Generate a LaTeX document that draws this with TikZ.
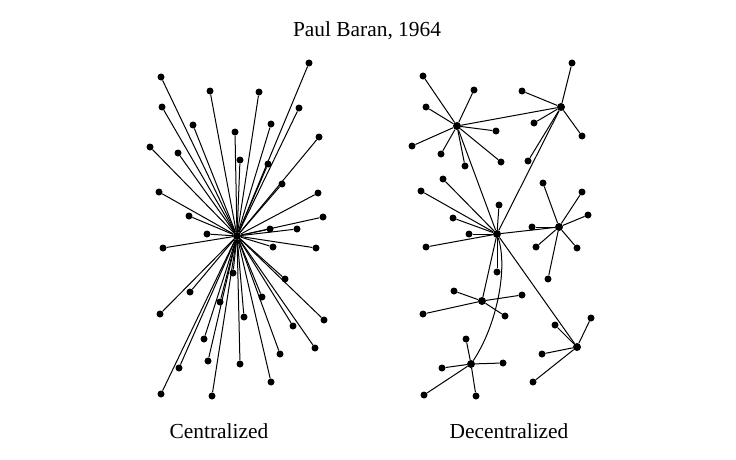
\documentclass[tikz,border=0pt]{standalone}
\usepackage{fontspec}
\setmainfont{Liberation Serif}
\usetikzlibrary{positioning}

\begin{document}
\begin{tikzpicture}[
    x=1pt, y=-1pt,
    dot/.style = {circle, fill=black, inner sep=0pt, minimum size=7pt},
    hub/.style = {dot, minimum size=8pt},
    link/.style = {line width=1pt},
    caption/.style = {anchor=base, font=\fontsize{21.4}{24}\selectfont},
  ]
    \useasboundingbox (0,0) rectangle (736,460);

    \node[caption] (title) at (367,37) {Paul Baran, 1964};
    \node[caption] (cent) at (219,438) {Centralized};
    \node[caption] (decent) at (509,438) {Decentralized};

    % centralized star
    \node[hub] (star) at (237,236) {};
    \foreach \x/\y [count=\i] in {309/63, 161/77, 210/91, 259/92, 162/107, 299/108,
        193/125, 271/124, 235/132, 319/137, 150/147, 178/153, 240/160, 268/164,
        282/184, 159/192, 318/193, 189/216, 323/217, 270/229, 297/229, 207/234,
        163/248, 273/247, 316/248, 233/273, 285/279, 190/292, 262/297, 220/302,
        160/314, 244/317, 324/320, 293/326, 204/339, 315/348, 280/354, 208/361,
        179/368, 240/364, 271/382, 161/394, 212/396}
      {
        \node[dot] (c\i) at (\x,\y) {};
        \draw[link] (star) -- (c\i);
      }

    % decentralized hubs
    \node[hub] (hA) at (457,126) {};
    \node[hub] (hB) at (561,107) {};
    \node[hub] (hC) at (497,234) {};
    \node[hub] (hD) at (559,227) {};
    \node[hub] (hE) at (482,301) {};
    \node[hub] (hF) at (471,364) {};
    \node[hub] (hG) at (577,347) {};

    \draw[link] (hA) -- (hB)
                (hA) -- (hC)
                (hB) -- (hC)
                (hC) -- (hD)
                (hC) -- (hE)
                (hC) -- (hG);
    \draw[link] (hF) .. controls (497,325) and (508,268) .. (hC);

    \foreach \h/\x/\y [count=\i] in {A/423/76, A/474/90, A/426/107, A/496/131,
        A/412/146, A/441/154, A/465/166, A/501/162,
        B/572/63, B/522/91, B/534/123, B/582/136, B/528/161,
        C/443/179, C/421/191, C/499/205, C/453/218, C/469/234, C/426/247, C/497/272,
        D/543/183, D/582/192, D/588/215, D/532/227, D/536/247, D/577/248, D/548/279,
        E/454/291, E/522/295, E/423/314, E/505/316,
        F/466/339, F/503/363, F/442/368, F/424/395, F/476/396,
        G/591/318, G/555/325, G/542/354, G/533/382}
      {
        \node[dot] (d\i) at (\x,\y) {};
        \draw[link] (h\h) -- (d\i);
      }
\end{tikzpicture}
\end{document}
